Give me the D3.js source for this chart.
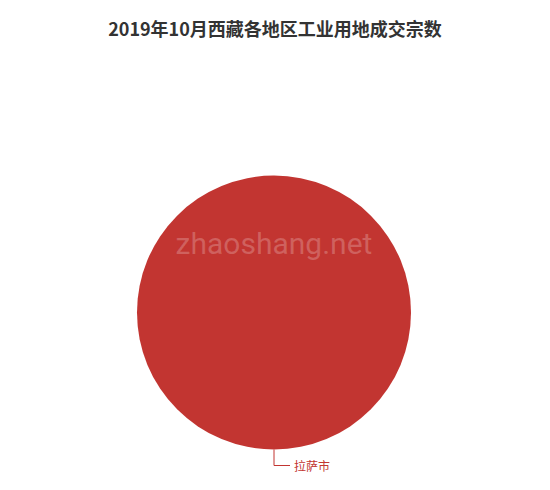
<!DOCTYPE html>
<html>
<head>
<meta charset="utf-8">
<script src="https://cdn.jsdelivr.net/npm/d3@7"></script>
<style>
  body { margin: 0; background: #fff; }
  svg { display: block; font-family: "Microsoft YaHei", "Noto Sans CJK SC", sans-serif; }
</style>
</head>
<body>
<svg id="chart" width="550" height="490"></svg>
<script>
const TITLE = "2019年10月西藏各地区工业用地成交宗数";
const REGIONS = ["拉萨市"];
const COUNTS = [1];
const COLORS = ["#c23531"];

const W = 550, H = 490;
const cx = 274, cy = 312.5, R = 137;
const svg = d3.select("#chart");

svg.append("text").attr("x", W / 2).attr("y", 36)
  .attr("text-anchor", "middle")
  .style("font-size", "18px").style("font-weight", "bold")
  .style("fill", "#333").text(TITLE);

const data = REGIONS.map((name, i) => ({ name, value: COUNTS[i] }));
const pie = d3.pie().value((d) => d.value).sort(null);
const arc = d3.arc().innerRadius(0).outerRadius(R);
const color = d3.scaleOrdinal().domain(REGIONS).range(COLORS);

const g = svg.append("g").attr("transform", `translate(${cx},${cy})`);
const arcs = pie(data);
g.selectAll("path").data(arcs).join("path")
  .attr("d", arc).attr("fill", (d) => color(d.data.name));

// label line from the slice midpoint (bottom for a single full slice)
arcs.forEach((d) => {
  const mid = (d.startAngle + d.endAngle) / 2;
  const p0 = [R * Math.sin(mid), -R * Math.cos(mid)];
  const p1 = [(R + 16) * Math.sin(mid), -(R + 16) * Math.cos(mid)];
  const p2 = [p1[0] + 16, p1[1]];
  g.append("polyline")
    .attr("points", [p0, p1, p2].map((p) => p.join(",")).join(" "))
    .attr("fill", "none").attr("stroke", color(d.data.name)).attr("stroke-width", 1);
  g.append("text").attr("x", p2[0] + 4).attr("y", p2[1])
    .attr("dominant-baseline", "central")
    .style("font-size", "12px").style("fill", color(d.data.name))
    .text(d.data.name);
});

svg.append("text").attr("x", cx).attr("y", 243)
  .attr("text-anchor", "middle").attr("dominant-baseline", "central")
  .style("font-family", "Roboto, Arial, sans-serif").style("font-size", "30px")
  .style("fill", "rgba(255,255,255,0.22)").text("zhaoshang.net");
</script>
</body>
</html>
